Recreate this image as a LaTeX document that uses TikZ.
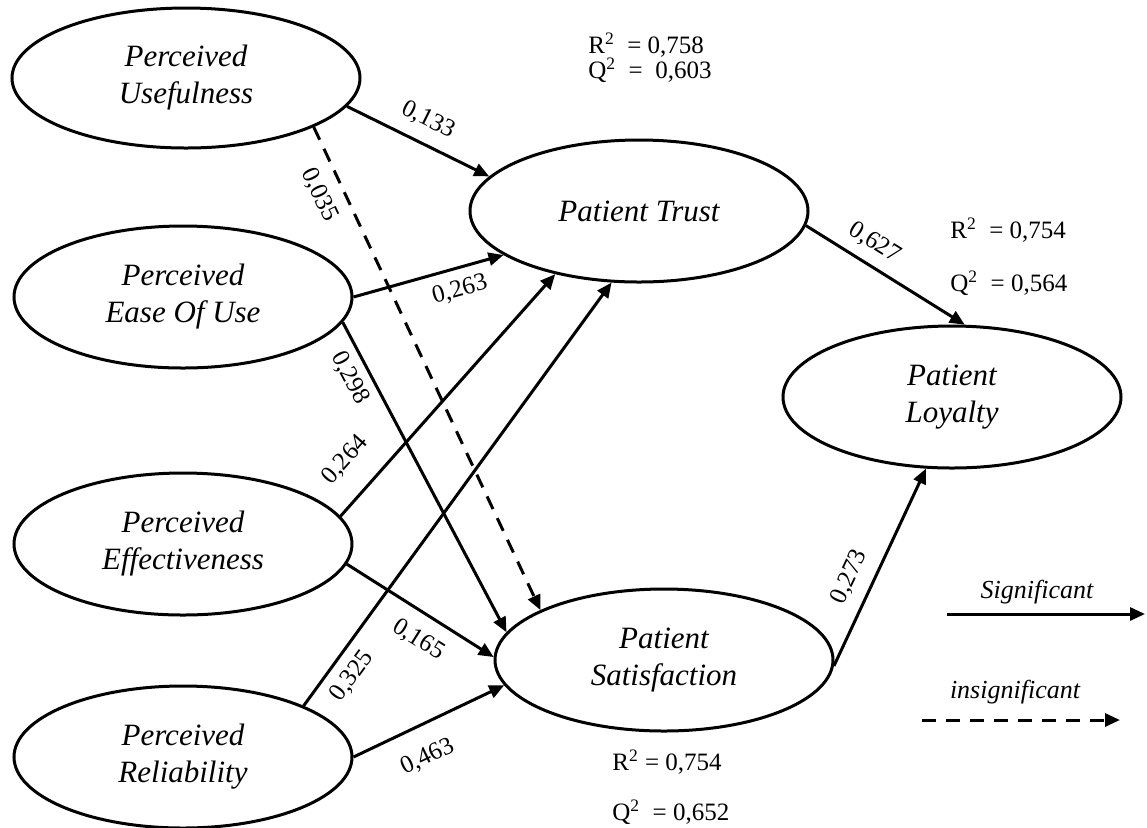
\documentclass[tikz,border=0pt]{standalone}
\usepackage{fontspec}
\setmainfont{Liberation Serif}
\usepackage{tikz}
\usetikzlibrary{arrows.meta,positioning,shapes.geometric}
\tikzset{
    construct/.style={draw=black,ellipse,line width=1.5pt,
      minimum width=169pt,minimum height=71pt,inner sep=0pt,
      font=\fontsize{15.5}{18.5}\selectfont\itshape,align=center},
    sigarrow/.style={-{Triangle[length=7.5pt,width=6.5pt]},draw=black,
      line width=1.5pt},
    insigarrow/.style={sigarrow,dash pattern=on 7pt off 5pt},
    coef/.style={font=\fontsize{12.5}{14}\selectfont,sloped,inner sep=2pt},
    fitstat/.style={font=\fontsize{12.5}{15}\selectfont,anchor=west,inner sep=0pt},
    legendtext/.style={font=\fontsize{13}{15}\selectfont\itshape,inner sep=0pt}
}

\begin{document}
\begin{tikzpicture}[x=0.5pt,y=-0.5pt]
  \useasboundingbox (0,0) rectangle (1147,827);
  % exogenous constructs
  \node[construct,minimum width=174pt,minimum height=70pt] (use) at (186,78) {Perceived\\Usefulness};
  \foreach \n/\y/\t in {ease/297/Ease Of Use,eff/544/Effectiveness,rel/757/Reliability}
    {\node[construct] (\n) at (183,\y) {Perceived\\\t};}
  % endogenous constructs
  \node[construct] (trust) at (639,211) {Patient Trust};
  \node[construct] (sat) at (664,660) {Patient\\Satisfaction};
  \node[construct] (loy) at (952,397) {Patient\\Loyalty};

  \draw[sigarrow] (use.-10) -- node[coef,above=4pt,pos=0.5]{0,133} (trust.167);
  \draw[insigarrow] (use.-21) -- node[coef,below=4pt,pos=0.12]{0,035} (sat.158);
  \draw[sigarrow] (ease.0) -- node[coef,below=3pt,pos=0.67]{0,263} (trust.-162);
  \draw[sigarrow] (ease.-9) -- node[coef,below=2pt,pos=0.15]{0,298} (sat.170);
  \draw[sigarrow] (eff.10) -- node[coef,above=9pt,pos=0.14]{0,264} (trust.-143);
  \draw[sigarrow] (eff.-7) -- node[coef,below=5pt,pos=0.58]{0,165} (sat.179);
  \draw[sigarrow] (rel.23) -- node[coef,below=3pt,pos=0.1]{0,325} (trust.-111);
  \draw[sigarrow] (rel.0) -- node[coef,below=8pt,pos=0.4]{0,463} (sat.-171);
  \draw[sigarrow] (trust.-5) -- node[coef,above=3pt,pos=0.36]{0,627} (loy.80);
  \draw[sigarrow] (sat.-2) -- node[coef,above=4pt,pos=0.4]{0,273} (loy.-110);

  % R2 and Q2
  \node[fitstat] (trustr) at (588,45) {R\textsuperscript{2}\ \ = 0,758};
  \node[fitstat] (trustq) at (588,70) {Q\textsuperscript{2}\ \ =\ \ 0,603};
  \node[fitstat] (loyr) at (950,230) {R\textsuperscript{2}\ \ = 0,754};
  \node[fitstat] (loyq) at (950,283) {Q\textsuperscript{2}\ \ = 0,564};
  \node[fitstat] (satr) at (612,762) {R\textsuperscript{2} = 0,754};
  \node[fitstat] (satq) at (612,812) {Q\textsuperscript{2}\ \ = 0,652};

  % legend
  \node[legendtext] (sig) at (1037,592) {Significant};
  \coordinate (sigA) at (947,614);
  \coordinate (sigB) at (1145,614);
  \draw[sigarrow] (sigA) -- (sigB);
  \node[legendtext] (insig) at (1015,692) {insignificant};
  \coordinate (insigA) at (922,720);
  \coordinate (insigB) at (1120,720);
  \draw[insigarrow] (insigA) -- (insigB);
\end{tikzpicture}
\end{document}
